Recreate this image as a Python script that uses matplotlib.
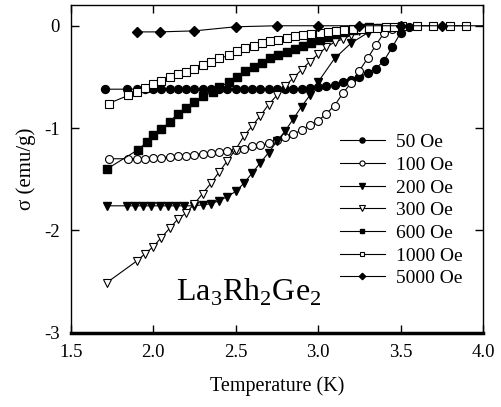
import matplotlib
matplotlib.use("Agg")
import matplotlib.pyplot as plt

plt.rcParams['font.family'] = ['Liberation Serif', 'DejaVu Serif']
plt.rcParams['mathtext.fontset'] = 'custom'
plt.rcParams['mathtext.rm'] = 'Liberation Serif'
plt.rcParams['axes.unicode_minus'] = False

# magnetisation vs temperature for each applied field
T50 = [1.71, 1.84, 1.90, 1.95, 2.00, 2.05, 2.10, 2.15, 2.20, 2.25, 2.30, 2.35, 2.40, 2.45,
       2.50, 2.55, 2.60, 2.65, 2.70, 2.75, 2.80, 2.85, 2.90, 2.95, 3.00, 3.05, 3.10, 3.15,
       3.20, 3.25, 3.30, 3.35, 3.40, 3.45, 3.50, 3.55]
M50 = [-0.62, -0.62, -0.62, -0.62, -0.62, -0.62, -0.62, -0.62, -0.62, -0.62, -0.62, -0.62,
       -0.62, -0.62, -0.62, -0.62, -0.62, -0.62, -0.62, -0.62, -0.62, -0.62, -0.615, -0.61,
       -0.60, -0.59, -0.58, -0.55, -0.53, -0.50, -0.46, -0.42, -0.34, -0.21, -0.07, -0.01]

T100 = [1.73, 1.85, 1.90, 1.95, 2.00, 2.05, 2.10, 2.15, 2.20, 2.25, 2.30, 2.35, 2.40, 2.45,
        2.50, 2.55, 2.60, 2.65, 2.70, 2.75, 2.80, 2.85, 2.90, 2.95, 3.00, 3.05, 3.10, 3.15,
        3.20, 3.25, 3.30, 3.35, 3.40, 3.45, 3.50]
M100 = [-1.30, -1.30, -1.30, -1.30, -1.29, -1.29, -1.28, -1.27, -1.27, -1.26, -1.25, -1.24,
        -1.23, -1.22, -1.21, -1.20, -1.18, -1.17, -1.15, -1.12, -1.09, -1.06, -1.02, -0.97,
        -0.93, -0.86, -0.78, -0.66, -0.56, -0.44, -0.32, -0.19, -0.07, -0.03, -0.01]

T200 = [1.72, 1.84, 1.89, 1.94, 1.99, 2.04, 2.09, 2.14, 2.19, 2.25, 2.30, 2.35, 2.40, 2.45,
        2.50, 2.55, 2.60, 2.65, 2.70, 2.75, 2.80, 2.85, 2.90, 2.95, 3.00, 3.10, 3.20, 3.30, 3.37]
M200 = [-1.76, -1.76, -1.76, -1.76, -1.76, -1.76, -1.76, -1.76, -1.76, -1.76, -1.75, -1.74,
        -1.71, -1.67, -1.62, -1.54, -1.44, -1.34, -1.24, -1.13, -1.03, -0.91, -0.79, -0.68,
        -0.55, -0.32, -0.17, -0.07, -0.02]

T300 = [1.72, 1.90, 1.95, 2.00, 2.05, 2.10, 2.15, 2.20, 2.25, 2.30, 2.35, 2.40, 2.45, 2.50,
        2.55, 2.60, 2.65, 2.70, 2.75, 2.80, 2.85, 2.90, 2.95, 3.00, 3.05, 3.10, 3.15, 3.20,
        3.25, 3.30]
M300 = [-2.51, -2.30, -2.23, -2.16, -2.07, -1.98, -1.89, -1.83, -1.74, -1.64, -1.54, -1.43,
        -1.32, -1.21, -1.08, -0.98, -0.88, -0.77, -0.68, -0.59, -0.51, -0.43, -0.35, -0.28,
        -0.21, -0.16, -0.13, -0.09, -0.05, -0.03]

T600 = [1.72, 1.91, 1.96, 2.00, 2.05, 2.10, 2.15, 2.20, 2.25, 2.30, 2.36, 2.40, 2.46, 2.51,
        2.56, 2.61, 2.66, 2.71, 2.76, 2.81, 2.86, 2.91, 2.96, 3.01, 3.06, 3.11, 3.16, 3.21,
        3.26, 3.31]
M600 = [-1.40, -1.21, -1.14, -1.07, -1.01, -0.94, -0.86, -0.80, -0.75, -0.69, -0.65, -0.60,
        -0.55, -0.50, -0.44, -0.40, -0.36, -0.32, -0.29, -0.26, -0.23, -0.20, -0.17, -0.14,
        -0.11, -0.08, -0.06, -0.04, -0.02, -0.01]

T1000 = [1.73, 1.85, 1.90, 1.95, 2.00, 2.05, 2.10, 2.15, 2.20, 2.25, 2.30, 2.35, 2.40, 2.46,
         2.51, 2.56, 2.61, 2.66, 2.71, 2.76, 2.81, 2.86, 2.91, 2.96, 3.01, 3.06, 3.11, 3.16,
         3.21, 3.26, 3.31, 3.36, 3.41, 3.46, 3.51, 3.60, 3.70, 3.80, 3.90]
M1000 = [-0.76, -0.68, -0.65, -0.61, -0.57, -0.54, -0.50, -0.47, -0.45, -0.42, -0.38, -0.35,
         -0.32, -0.29, -0.25, -0.22, -0.20, -0.17, -0.15, -0.14, -0.12, -0.10, -0.09, -0.08,
         -0.07, -0.06, -0.05, -0.04, -0.03, -0.03, -0.02, -0.02, -0.01, -0.01, 0.0, 0.0,
         0.0, 0.0, 0.0]

T5000 = [1.90, 2.04, 2.25, 2.50, 2.75, 3.00, 3.25, 3.50, 3.75, 4.00]
M5000 = [-0.06, -0.06, -0.05, -0.01, 0.0, 0.0, 0.0, 0.0, 0.0, 0.0]

labels = ['50 Oe', '100 Oe', '200 Oe', '300 Oe', '600 Oe', '1000 Oe', '5000 Oe']

fig = plt.figure(figsize=(5.02, 4.07), dpi=100)
ax = fig.add_axes([0.1408, 0.1826, 0.8213, 0.8044])

lw = 0.8
ax.plot(T50, M50, '-o', color='k', lw=lw, ms=5.7, mfc='k', mec='k', label=labels[0])
ax.plot(T100, M100, '-o', color='k', lw=lw, ms=5.7, mfc='white', mec='k', mew=0.8, label=labels[1])
ax.plot(T200, M200, '-v', color='k', lw=lw, ms=5.7, mfc='k', mec='k', label=labels[2])
ax.plot(T300, M300, '-v', color='k', lw=lw, ms=5.7, mfc='white', mec='k', mew=0.8, label=labels[3])
ax.plot(T600, M600, '-s', color='k', lw=lw, ms=5.2, mfc='k', mec='k', label=labels[4])
ax.plot(T1000, M1000, '-s', color='k', lw=lw, ms=5.2, mfc='white', mec='k', mew=0.8, label=labels[5])
# last point only carries the line to the frame
ax.plot(T5000, M5000, '-D', color='k', lw=lw, ms=5, mfc='k', mec='k',
        markevery=slice(0, len(T5000) - 1), label=labels[6])

ax.set_xlim(1.5, 4.0)
ax.set_ylim(-3, 0.2)
ax.set_xticks([1.5, 2.0, 2.5, 3.0, 3.5, 4.0])
ax.set_xticklabels(['1.5', '2.0', '2.5', '3.0', '3.5', '4.0'])
ax.set_yticks([0, -1, -2, -3])
ax.set_yticklabels(['0', '-1', '-2', '-3'])
ax.tick_params(direction='in', length=6, width=1, labelsize=13.5, top=True, right=True, pad=8)

for s in ['left', 'right', 'top']:
    ax.spines[s].set_linewidth(1.0)
ax.spines['bottom'].set_linewidth(2.5)

ax.set_xlabel('Temperature (K)', fontsize=14.5, labelpad=11)
ax.set_ylabel('σ (emu/g)', fontsize=15, labelpad=6)

ax.text(2.14, -2.69, r'La$_\mathregular{3}$Rh$_\mathregular{2}$Ge$_\mathregular{2}$', fontsize=23,
        ha='left', va='baseline')

ax.legend(loc='upper left', bbox_to_anchor=(0.653, 0.608), frameon=False, fontsize=14,
          handlelength=2.3, handletextpad=0.6, labelspacing=0.26, borderpad=0,
          borderaxespad=0, markerscale=0.65)

fig.savefig('out.png', dpi=100)
